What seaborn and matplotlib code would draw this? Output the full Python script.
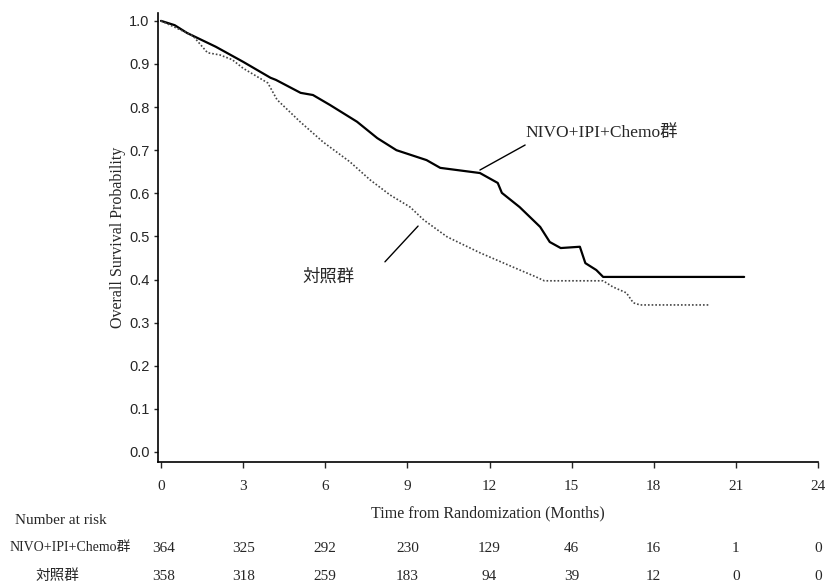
import matplotlib
matplotlib.use("Agg")
import matplotlib.pyplot as plt
import matplotlib.transforms as mtransforms
import seaborn as sns
import pandas as pd

# KM curves (months, survival probability)
nivo_months = [0, 0.5, 0.95, 2.0, 3.0, 4.0, 4.2, 5.1, 5.55, 6.17, 7.16, 7.9, 8.6, 9.7,
               10.2, 11.65, 12.3, 12.45, 13.1, 13.85, 14.2, 14.6, 15.3, 15.5, 15.9,
               16.15, 21.3]
nivo_surv = [1.0, 0.99, 0.972, 0.94, 0.905, 0.868, 0.863, 0.833, 0.828, 0.805, 0.766,
             0.728, 0.70, 0.677, 0.659, 0.647, 0.624, 0.601, 0.568, 0.522, 0.487, 0.473,
             0.476, 0.438, 0.422, 0.406, 0.406]

ctrl_months = [0, 0.95, 1.17, 1.7, 2.15, 2.6, 3.0, 3.9, 4.24, 5.08, 5.92, 6.9, 7.64, 8.37,
               9.1, 9.6, 10.45, 11.65, 12.85, 13.7, 14.0, 16.15, 16.5, 17.0, 17.25, 17.5,
               20.05]
ctrl_surv = [1.0, 0.972, 0.965, 0.926, 0.921, 0.91, 0.89, 0.856, 0.817, 0.766, 0.719,
             0.673, 0.631, 0.596, 0.568, 0.538, 0.499, 0.462, 0.429, 0.406, 0.397, 0.397,
             0.383, 0.369, 0.346, 0.341, 0.341]

x_ticks = [0, 3, 6, 9, 12, 15, 18, 21, 24]
y_ticks = [0.0, 0.1, 0.2, 0.3, 0.4, 0.5, 0.6, 0.7, 0.8, 0.9, 1.0]

nivo_label = "NIVO+IPI+Chemo群"
ctrl_label = "対照群"
nivo_at_risk = [364, 325, 292, 230, 129, 46, 16, 1, 0]
ctrl_at_risk = [358, 318, 259, 183, 94, 39, 12, 0, 0]

sns.set_style("white")
plt.rcParams['font.family'] = ['Liberation Serif', 'Noto Sans CJK JP', 'DejaVu Sans']

nivo_df = pd.DataFrame({'month': nivo_months, 'surv': nivo_surv})
ctrl_df = pd.DataFrame({'month': ctrl_months, 'surv': ctrl_surv})

fig = plt.figure(figsize=(8.28, 5.84), dpi=100)
ax = fig.add_axes([0.1908, 0.209, 0.7972, 0.769])

sns.lineplot(data=nivo_df, x='month', y='surv', ax=ax, color='black', linewidth=1.6,
             sort=False, estimator=None)
sns.lineplot(data=ctrl_df, x='month', y='surv', ax=ax, color='#444444', linewidth=1.2,
             linestyle=(0, (1, 1.2)), sort=False, estimator=None)

ax.set_xlim(-0.11, 24)
ax.set_ylim(-0.0232, 1.0186)
ax.set_xticks(x_ticks)
ax.set_yticks(y_ticks)
ax.set_xticklabels([str(t) for t in x_ticks], fontsize=11)
ax.set_yticklabels([f"{t:.1f}" for t in y_ticks], fontsize=10.5, family='Liberation Sans')
ax.tick_params(axis='x', direction='out', length=4, width=1, pad=9, bottom=True)
ax.tick_params(axis='y', direction='out', length=3, width=1, pad=3, left=True)

sns.despine(ax=ax)
for s in ['left', 'bottom']:
    ax.spines[s].set_color('black')
    ax.spines[s].set_linewidth(1.2)

ax.set_xlabel("Time from Randomization (Months)", fontsize=11.5, labelpad=9)
ax.set_ylabel("Overall Survival Probability", fontsize=11.5, labelpad=2)

# curve labels with leader lines
ax.text(13.3, 0.74, nivo_label, fontsize=12.5, ha='left', va='center')
ax.plot([13.3, 11.65], [0.712, 0.654], color='black', linewidth=1)
ax.text(5.15, 0.404, ctrl_label, fontsize=12.5, ha='left', va='center')
ax.plot([8.18, 9.39], [0.441, 0.524], color='black', linewidth=1)

# number at risk table
trans = mtransforms.blended_transform_factory(ax.transData, fig.transFigure)
fig.text(15 / 828, 1 - 521 / 584, "Number at risk", fontsize=11, ha='left', va='center')
fig.text(10 / 828, 1 - 548 / 584, nivo_label, fontsize=10, ha='left', va='center')
fig.text(57 / 828, 1 - 576 / 584, ctrl_label, fontsize=10.5, ha='center', va='center')
for m, a, b in zip(x_ticks, nivo_at_risk, ctrl_at_risk):
    xx = m + 0.1 if m == 0 else m
    fig.text(xx, 1 - 548 / 584, str(a), fontsize=11, ha='center', va='center', transform=trans)
    fig.text(xx, 1 - 576 / 584, str(b), fontsize=11, ha='center', va='center', transform=trans)

fig.savefig("out.png", dpi=100)
